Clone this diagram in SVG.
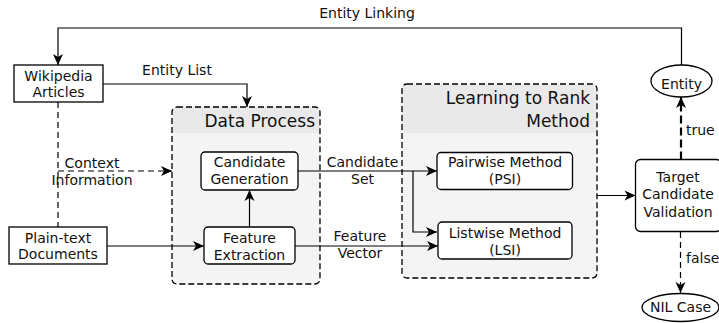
<svg xmlns="http://www.w3.org/2000/svg" width="719" height="323" viewBox="0 0 719 323">
  <defs>
    <marker id="arrow" viewBox="-12 -6 13 12" refX="0" refY="0" markerWidth="13" markerHeight="12" markerUnits="userSpaceOnUse" orient="auto">
      <path d="M0,0 L-11,-5 L-8,0 L-11,5 Z" fill="#000"/>
    </marker>
  </defs>
  <style>
    text { font-family: "DejaVu Sans", Verdana, sans-serif; font-size: 14px; fill: #111; }
    .title { font-size: 17px; text-anchor: end; }
    .c { text-anchor: middle; }
    .box { fill: #fff; stroke: #000; stroke-width: 1.3; }
    .group-body { fill: #f4f4f4; }
    .group-head { fill: #e9e9e9; }
    .group-border { fill: none; stroke: #000; stroke-width: 1.3; stroke-dasharray: 6 3; }
    .edge { fill: none; stroke: #000; stroke-width: 1.2; }
    .dashed { stroke-dasharray: 6 4; }
    .bold-dash { stroke-width: 2.2; stroke-dasharray: 8 4; }
  </style>

  <!-- group containers -->
  <g id="data-process">
    <rect class="group-body" x="172" y="107" width="148" height="177" rx="5"/>
    <path class="group-head" d="M177,107 H315 A5,5 0 0 1 320,112 V133 H172 V112 A5,5 0 0 1 177,107 Z"/>
    <rect class="group-border" x="172" y="107" width="148" height="177" rx="5"/>
    <text class="title" x="315" y="127">Data Process</text>
  </g>
  <g id="learning-to-rank">
    <rect class="group-body" x="402" y="84" width="195" height="194" rx="5"/>
    <path class="group-head" d="M407,84 H592 A5,5 0 0 1 597,89 V133 H402 V89 A5,5 0 0 1 407,84 Z"/>
    <rect class="group-border" x="402" y="84" width="195" height="194" rx="5"/>
    <text class="title" x="590" y="104">Learning to Rank</text>
    <text class="title" x="590" y="127">Method</text>
  </g>

  <!-- connectors -->
  <g id="edges">
    <polyline class="edge" points="681.5,65 681.5,28 58,28 58,65" marker-end="url(#arrow)"/>
    <text class="c" x="367" y="18">Entity Linking</text>

    <polyline class="edge" points="103,84 247,84 247,107" marker-end="url(#arrow)"/>
    <text class="c" x="177" y="75">Entity List</text>

    <line class="edge dashed" x1="58" y1="102" x2="58" y2="227"/>
    <line class="edge dashed" x1="58" y1="171" x2="172" y2="171" marker-end="url(#arrow)"/>
    <text class="c" x="92" y="168">Context</text>
    <text class="c" x="92" y="185">Information</text>

    <line class="edge" x1="107" y1="246" x2="204" y2="246" marker-end="url(#arrow)"/>
    <line class="edge" x1="249.5" y1="227" x2="249.5" y2="190" marker-end="url(#arrow)"/>

    <line class="edge" x1="298" y1="171" x2="437" y2="171" marker-end="url(#arrow)"/>
    <polyline class="edge" points="413,171 413,232 437,232" marker-end="url(#arrow)"/>
    <text class="c" x="362.5" y="167">Candidate</text>
    <text class="c" x="362.5" y="184">Set</text>

    <line class="edge" x1="295" y1="246" x2="438" y2="246" marker-end="url(#arrow)"/>
    <text class="c" x="360" y="241">Feature</text>
    <text class="c" x="360" y="258">Vector</text>

    <line class="edge" x1="597" y1="195.5" x2="635.5" y2="195.5" marker-end="url(#arrow)"/>

    <line class="edge bold-dash" x1="681" y1="159.5" x2="681" y2="97" marker-end="url(#arrow)"/>
    <text x="686" y="135">true</text>

    <line class="edge dashed" x1="680.5" y1="232" x2="680.5" y2="293" marker-end="url(#arrow)"/>
    <text x="686" y="263">false</text>
  </g>

  <!-- nodes -->
  <g id="wikipedia-articles">
    <rect class="box" x="14" y="65" width="89" height="37"/>
    <text class="c" x="58.5" y="81">Wikipedia</text>
    <text class="c" x="58.5" y="97">Articles</text>
  </g>
  <g id="plain-text-documents">
    <rect class="box" x="9" y="227" width="98" height="37"/>
    <text class="c" x="58" y="243">Plain-text</text>
    <text class="c" x="58" y="259">Documents</text>
  </g>
  <g id="candidate-generation">
    <rect class="box" x="201" y="152" width="97" height="38" rx="4"/>
    <text class="c" x="249.5" y="167">Candidate</text>
    <text class="c" x="249.5" y="184">Generation</text>
  </g>
  <g id="feature-extraction">
    <rect class="box" x="204" y="227" width="91" height="37" rx="4"/>
    <text class="c" x="249.5" y="243">Feature</text>
    <text class="c" x="249.5" y="260">Extraction</text>
  </g>
  <g id="pairwise-method">
    <rect class="box" x="437" y="152.5" width="135.5" height="37" rx="4"/>
    <text class="c" x="505" y="167">Pairwise Method</text>
    <text class="c" x="505" y="184">(PSI)</text>
  </g>
  <g id="listwise-method">
    <rect class="box" x="438" y="222" width="134" height="37" rx="4"/>
    <text class="c" x="505" y="237.5">Listwise Method</text>
    <text class="c" x="505" y="255">(LSI)</text>
  </g>
  <g id="target-candidate-validation">
    <rect class="box" x="635.5" y="159.5" width="86" height="72" rx="5"/>
    <text class="c" x="678" y="182">Target</text>
    <text class="c" x="678" y="199">Candidate</text>
    <text class="c" x="678" y="216.5">Validation</text>
  </g>
  <g id="entity">
    <ellipse class="box" cx="681.5" cy="81" rx="30.5" ry="16"/>
    <text class="c" x="681.5" y="89">Entity</text>
  </g>
  <g id="nil-case">
    <ellipse class="box" cx="680.5" cy="307.5" rx="38.5" ry="14"/>
    <text class="c" x="680.5" y="312">NIL Case</text>
  </g>
</svg>
